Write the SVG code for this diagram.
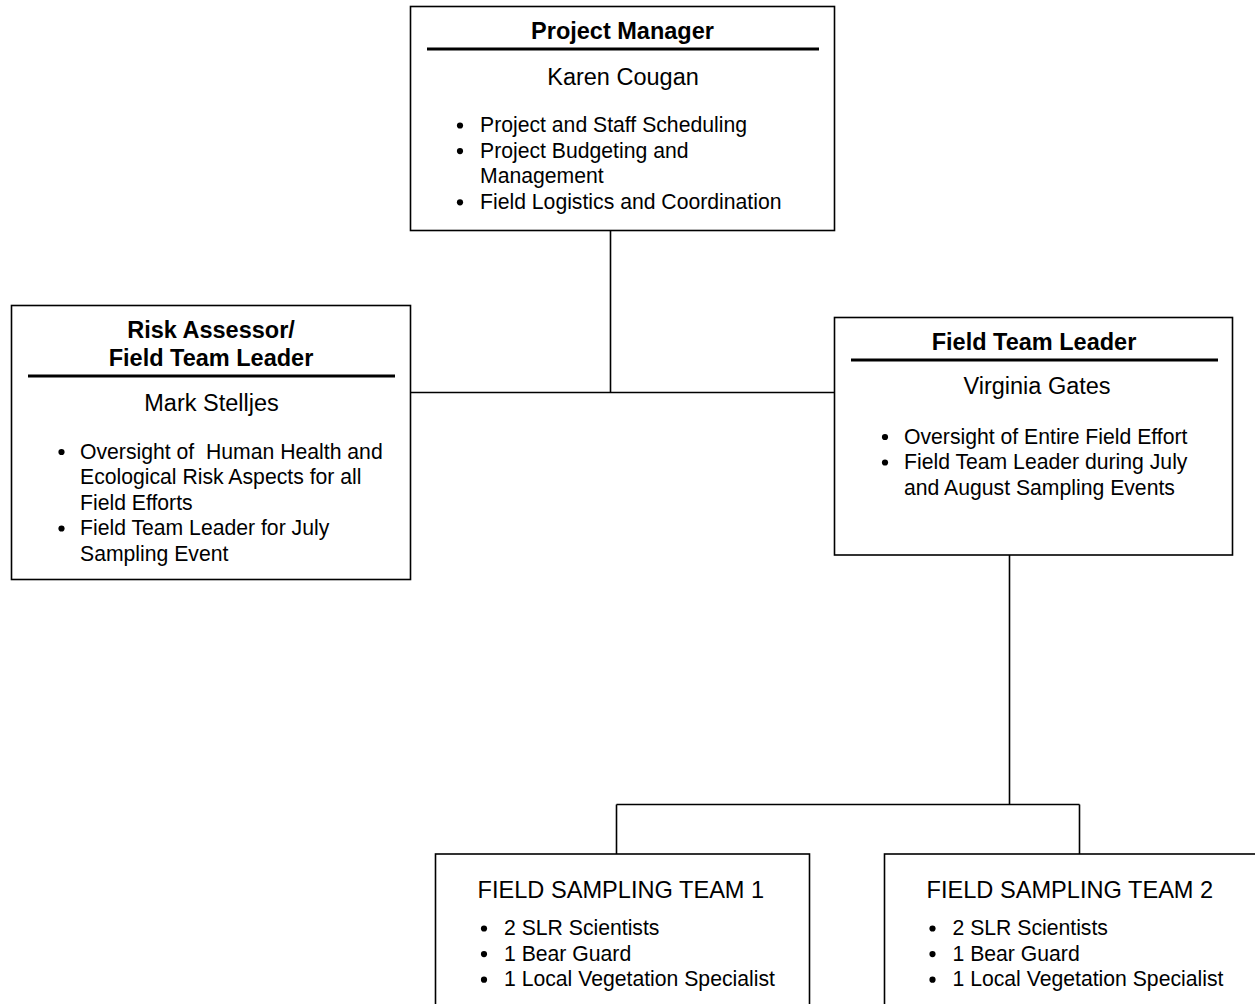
<svg xmlns="http://www.w3.org/2000/svg" width="1255" height="1004" viewBox="0 0 1255 1004">
<style>
.box{fill:#fff;stroke:#000;stroke-width:1.6}
.conn{fill:none;stroke:#000;stroke-width:1.6}
.rule{stroke:#000;stroke-width:3.2}
.t{font-family:"Liberation Sans",Arial,sans-serif;font-size:23.5px;font-weight:bold;text-anchor:middle;fill:#000}
.n{font-family:"Liberation Sans",Arial,sans-serif;font-size:23.5px;text-anchor:middle;fill:#000}
.b{font-family:"Liberation Sans",Arial,sans-serif;font-size:21.2px;fill:#000;white-space:pre}
.h{font-family:"Liberation Sans",Arial,sans-serif;font-size:23.6px;fill:#000}
.dot{fill:#000}
</style>
<rect width="1255" height="1004" fill="#fff"/>
<g id="connectors">
<path class="conn" d="M610.5 231V392.5M410.5 392.5H834.5"/>
<path class="conn" d="M1009.5 555V804.5M616.5 804.5H1079.5M616.5 804.5V854M1079.5 804.5V854"/>
</g>
<g id="project-manager">
<rect class="box" x="410.5" y="6.5" width="424" height="224"/>
<text class="t" x="622.5" y="39">Project Manager</text>
<line class="rule" x1="427" y1="49" x2="819" y2="49"/>
<text class="n" x="623" y="85">Karen Cougan</text>
<circle class="dot" cx="460" cy="125.5" r="3.1"/>
<text class="b" x="480" y="132">Project and Staff Scheduling</text>
<circle class="dot" cx="460" cy="151.1" r="3.1"/>
<text class="b" x="480" y="157.6">Project Budgeting and</text>
<text class="b" x="480" y="183.2">Management</text>
<circle class="dot" cx="460" cy="202.3" r="3.1"/>
<text class="b" x="480" y="208.8">Field Logistics and Coordination</text>
</g>
<g id="risk-assessor">
<rect class="box" x="11.5" y="305.5" width="399" height="274"/>
<text class="t" x="211" y="337.5">Risk Assessor/</text>
<text class="t" x="211" y="365.5">Field Team Leader</text>
<line class="rule" x1="28" y1="376" x2="395" y2="376"/>
<text class="n" x="211.5" y="411">Mark Stelljes</text>
<circle class="dot" cx="61.5" cy="452" r="3.1"/>
<text class="b" x="80" y="458.5">Oversight of  Human Health and</text>
<text class="b" x="80" y="484">Ecological Risk Aspects for all</text>
<text class="b" x="80" y="509.5">Field Efforts</text>
<circle class="dot" cx="61.5" cy="528.5" r="3.1"/>
<text class="b" x="80" y="535">Field Team Leader for July</text>
<text class="b" x="80" y="560.5">Sampling Event</text>
</g>
<g id="field-team-leader">
<rect class="box" x="834.5" y="317.5" width="398" height="237.5"/>
<text class="t" x="1034" y="349.5">Field Team Leader</text>
<line class="rule" x1="851" y1="360" x2="1218" y2="360"/>
<text class="n" x="1037" y="393.5">Virginia Gates</text>
<circle class="dot" cx="885" cy="437" r="3.1"/>
<text class="b" x="904" y="443.5">Oversight of Entire Field Effort</text>
<circle class="dot" cx="885" cy="462.5" r="3.1"/>
<text class="b" x="904" y="469">Field Team Leader during July</text>
<text class="b" x="904" y="494.5">and August Sampling Events</text>
</g>
<g id="field-sampling-team-1">
<rect class="box" x="435.5" y="854" width="374" height="160"/>
<text class="h" x="477.5" y="898">FIELD SAMPLING TEAM 1</text>
<circle class="dot" cx="484" cy="928.5" r="3.1"/>
<text class="b" x="504" y="935">2 SLR Scientists</text>
<circle class="dot" cx="484" cy="954.1" r="3.1"/>
<text class="b" x="504" y="960.6">1 Bear Guard</text>
<circle class="dot" cx="484" cy="979.7" r="3.1"/>
<text class="b" x="504" y="986.2">1 Local Vegetation Specialist</text>
</g>
<g id="field-sampling-team-2">
<rect class="box" x="884.5" y="854" width="380" height="160"/>
<text class="h" x="926.5" y="898">FIELD SAMPLING TEAM 2</text>
<circle class="dot" cx="932.5" cy="928.5" r="3.1"/>
<text class="b" x="952.5" y="935">2 SLR Scientists</text>
<circle class="dot" cx="932.5" cy="954.1" r="3.1"/>
<text class="b" x="952.5" y="960.6">1 Bear Guard</text>
<circle class="dot" cx="932.5" cy="979.7" r="3.1"/>
<text class="b" x="952.5" y="986.2">1 Local Vegetation Specialist</text>
</g>
</svg>
